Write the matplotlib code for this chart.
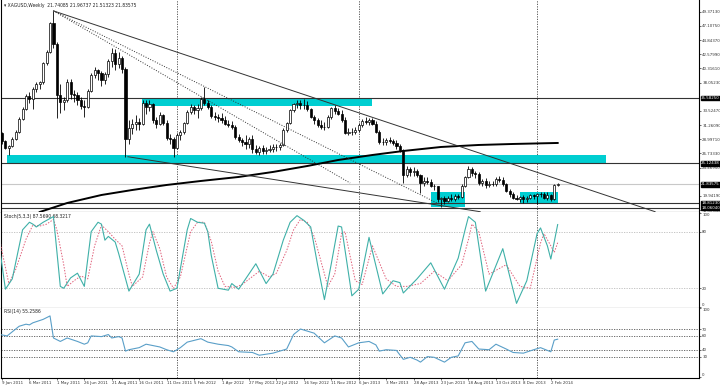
import matplotlib
matplotlib.use("Agg")
import matplotlib.pyplot as plt
import matplotlib.transforms as mtransforms
from matplotlib.patches import Rectangle

# weekly bars, week 0 = 9 Jan 2011
opens = [30.0, 28.7, 27.6, 27.9, 29.1, 30.2, 32.3, 33.9, 35.9, 35.5,
         37.0, 37.8, 38.1, 41.2, 43.0, 47.5, 44.2, 36.0, 35.0, 35.3,
         38.2, 36.3, 36.0, 35.2, 34.3, 34.2, 36.7, 39.2, 40.0, 39.5,
         38.5, 39.4, 41.5, 42.8, 41.0, 42.0, 40.2, 29.0, 30.8, 31.4,
         31.7, 31.4, 34.8, 34.2, 34.6, 32.1, 31.5, 32.8, 31.6, 29.2,
         29.0, 27.6, 29.6, 30.2, 31.6, 33.4, 34.2, 33.6, 34.0, 35.4,
         34.8, 34.2, 32.7, 32.5, 32.4, 32.0, 31.5, 31.3, 30.9, 29.4,
         28.9, 28.5, 28.3, 29.1, 27.4, 27.0, 27.6, 27.1, 27.3, 27.5,
         27.7, 27.8, 28.0, 30.5, 31.6, 33.6, 34.6, 34.8, 34.4, 34.5,
         33.8, 32.6, 32.0, 31.3, 31.0, 30.9, 32.6, 34.0, 33.5, 33.1,
         32.1, 30.0, 30.2, 30.1, 30.4, 31.3, 31.9, 31.8, 32.0, 31.5,
         30.2, 28.6, 28.5, 28.9, 28.7, 28.4, 27.9, 27.3, 23.3, 24.2,
         23.7, 24.0, 23.3, 22.0, 22.4, 22.2, 21.6, 21.5, 19.4, 19.6,
         19.1, 19.6, 19.4, 19.9, 19.8, 21.6, 23.0, 24.2, 23.6, 23.5,
         22.0, 22.3, 21.7, 21.9, 21.8, 22.7, 22.5, 21.9, 20.8, 20.2,
         19.6, 19.5, 19.7, 19.5, 19.6, 20.1, 19.9, 20.2, 20.3, 19.6,
         20.1, 19.4, 21.74085]
highs = [30.2, 28.9, 28.0, 29.3, 30.5, 32.5, 34.2, 36.2, 36.6, 37.3,
         38.2, 38.3, 41.4, 43.2, 47.8, 49.5, 44.6, 37.8, 35.8, 38.6,
         38.6, 36.8, 36.5, 35.8, 35.2, 37.0, 39.5, 40.6, 40.2, 39.9,
         39.8, 41.8, 43.6, 43.4, 42.9, 42.3, 40.5, 32.0, 32.2, 32.8,
         32.4, 35.2, 35.3, 35.2, 34.8, 32.6, 33.3, 33.0, 32.0, 29.8,
         29.3, 30.0, 30.5, 31.8, 33.7, 34.6, 34.5, 34.7, 35.8, 37.4,
         35.2, 34.5, 33.3, 33.0, 33.2, 32.7, 32.1, 31.9, 31.2, 29.9,
         29.2, 29.6, 29.4, 29.7, 28.0, 27.9, 28.1, 27.7, 28.0, 28.2,
         28.3, 28.4, 30.8, 31.8, 33.8, 34.8, 35.3, 35.2, 35.4, 35.1,
         34.0, 32.9, 32.4, 32.0, 31.7, 32.8, 34.2, 34.5, 34.0, 33.6,
         32.5, 30.8, 30.8, 31.0, 31.6, 32.3, 32.5, 32.4, 32.4, 31.9,
         30.4, 29.2, 29.2, 29.3, 29.0, 28.8, 28.3, 27.5, 24.8, 24.6,
         24.5, 24.3, 23.5, 22.9, 22.9, 22.6, 21.9, 21.6, 19.8, 19.9,
         19.9, 20.2, 20.2, 20.3, 21.8, 23.2, 24.8, 24.6, 24.0, 23.8,
         22.6, 22.8, 22.3, 22.4, 23.0, 23.1, 22.9, 22.0, 21.0, 20.5,
         20.1, 20.0, 20.1, 19.9, 20.3, 20.3, 20.4, 20.6, 20.5, 20.5,
         20.3, 21.8, 21.96737]
lows = [28.3, 27.4, 26.4, 27.7, 28.9, 30.0, 32.1, 33.6, 34.8, 33.9,
        36.5, 37.0, 37.8, 40.8, 42.8, 43.6, 32.4, 33.2, 33.6, 35.0,
        35.5, 35.0, 34.5, 33.8, 32.6, 34.0, 36.5, 38.8, 38.5, 37.5,
        37.8, 39.0, 40.6, 40.0, 40.4, 39.5, 26.2, 28.2, 29.9, 30.4,
        30.5, 31.2, 33.0, 33.5, 31.6, 30.8, 31.2, 31.2, 28.8, 28.3,
        26.1, 27.4, 28.8, 29.9, 31.4, 33.0, 33.0, 32.4, 33.6, 34.4,
        33.8, 32.4, 32.0, 31.8, 31.6, 31.2, 30.9, 30.6, 29.0, 28.6,
        27.9, 27.5, 27.6, 26.8, 26.6, 26.5, 26.7, 26.6, 26.9, 27.0,
        27.1, 27.3, 27.9, 30.2, 31.4, 33.3, 34.0, 33.8, 33.9, 33.5,
        32.4, 31.5, 30.9, 30.6, 30.4, 30.8, 32.3, 33.0, 32.8, 31.8,
        29.8, 29.7, 29.6, 29.8, 30.2, 31.0, 31.5, 31.3, 31.2, 30.0,
        28.3, 28.0, 28.1, 28.4, 28.0, 27.5, 27.0, 22.0, 23.0, 23.1,
        23.2, 23.0, 20.4, 21.6, 21.8, 21.3, 20.9, 19.0, 18.1, 18.7,
        18.9, 19.1, 19.2, 19.4, 19.6, 21.3, 22.8, 23.2, 22.8, 21.7,
        21.6, 21.2, 21.3, 21.5, 21.6, 22.1, 21.6, 20.6, 19.8, 19.4,
        19.3, 19.0, 18.8, 18.9, 19.4, 19.5, 18.6, 19.7, 19.4, 19.3,
        19.2, 19.3, 21.51323]
closes = [28.7, 27.6, 27.9, 29.1, 30.2, 32.3, 33.9, 35.9, 35.5, 37.0,
          37.8, 38.1, 41.2, 43.0, 47.5, 44.2, 36.0, 35.0, 35.3, 38.2,
          36.3, 36.0, 35.2, 34.3, 34.2, 36.7, 39.2, 40.0, 39.5, 38.5,
          39.4, 41.5, 42.8, 41.0, 42.0, 40.2, 29.0, 30.8, 31.4, 31.7,
          31.4, 34.8, 34.2, 34.6, 32.1, 31.5, 32.8, 31.6, 29.2, 29.0,
          27.6, 29.6, 30.2, 31.6, 33.4, 34.2, 33.6, 34.0, 35.4, 34.8,
          34.2, 32.7, 32.5, 32.4, 32.0, 31.5, 31.3, 30.9, 29.4, 28.9,
          28.5, 28.3, 29.1, 27.4, 27.0, 27.6, 27.1, 27.3, 27.5, 27.7,
          27.8, 28.0, 30.5, 31.6, 33.6, 34.6, 34.8, 34.4, 34.5, 33.8,
          32.6, 32.0, 31.3, 31.0, 30.9, 32.6, 34.0, 33.5, 33.1, 32.1,
          30.0, 30.2, 30.1, 30.4, 31.3, 31.9, 31.8, 32.0, 31.5, 30.2,
          28.6, 28.5, 28.9, 28.7, 28.4, 27.9, 27.3, 23.3, 24.2, 23.7,
          24.0, 23.3, 22.0, 22.4, 22.2, 21.6, 21.5, 19.4, 19.6, 19.1,
          19.6, 19.4, 19.9, 19.8, 21.6, 23.0, 24.2, 23.6, 23.5, 22.0,
          22.3, 21.7, 21.9, 21.8, 22.7, 22.5, 21.9, 20.8, 20.2, 19.6,
          19.5, 19.7, 19.5, 19.6, 20.1, 19.9, 20.2, 20.3, 19.6, 20.1,
          19.4, 21.74, 21.83575]

# long moving average
ma_weeks = [11, 19, 29, 38, 48, 58, 69, 79, 89, 98, 108, 117, 128, 139, 149, 162]
ma_vals = [17.37, 18.81, 20.09, 20.89, 21.69, 22.33, 22.97, 23.77, 24.72, 25.68,
           26.48, 27.12, 27.76, 28.08, 28.24, 28.40]

# stochastic %K / %D
k_weeks = [-0.6, 1, 3, 6, 8, 9, 10, 12, 14, 15, 17, 18, 20, 22, 24, 26, 28, 29, 30, 31,
           32, 33, 34, 37, 40, 42, 43, 45, 47, 49, 51, 54, 55, 57, 59, 60, 61, 63, 66, 67,
           69, 74, 77, 79, 82, 84, 86, 88, 90, 92, 94, 96, 98, 99, 102, 104, 107, 111, 114, 116,
           117, 121, 125, 129, 133, 135, 136, 138, 141, 146, 150, 153, 156, 157, 159, 160, 162]
k_vals = [60, 19, 30, 82, 90, 88, 85, 90, 94, 96, 22, 20, 31, 36, 22, 80, 90, 88, 71, 75,
          72, 69, 57, 17, 35, 82, 88, 60, 35, 17, 20, 82, 94, 90, 89, 80, 55, 20, 18, 25,
          19, 46, 25, 35, 71, 90, 97, 92, 85, 45, 8, 46, 86, 85, 12, 19, 74, 14, 28, 26,
          15, 30, 47, 19, 52, 82, 96, 90, 17, 62, 4, 28, 78, 84, 65, 51, 87.569]
d_weeks = [-0.6, 1, 2, 4, 7, 9, 11, 13, 15, 16, 18, 19, 21, 23, 25, 27, 29, 31, 33, 35,
           37, 38, 41, 43, 44, 46, 48, 50, 52, 55, 57, 59, 61, 63, 65, 68, 70, 75, 78, 80,
           83, 85, 87, 89, 91, 95, 97, 99, 100, 103, 105, 108, 112, 115, 118, 122, 126, 130, 134, 136,
           137, 139, 142, 147, 151, 154, 157, 158, 160, 161, 162]
d_vals = [70, 42, 25, 40, 72, 87, 86, 88, 93, 82, 45, 22, 28, 33, 30, 65, 87, 80, 72, 65,
          35, 22, 32, 68, 80, 62, 32, 20, 32, 80, 90, 90, 70, 38, 22, 21, 24, 38, 32, 36,
          60, 82, 93, 90, 75, 22, 35, 78, 80, 28, 24, 65, 30, 22, 22, 25, 38, 28, 45, 72,
          88, 80, 35, 45, 22, 20, 68, 78, 65, 58, 68.3217]

# RSI(14)
r_weeks = [-0.6, 1.5, 3, 5, 7, 8, 9, 12, 14, 15, 17, 19, 22, 24, 25, 26, 29, 31, 32, 34,
           35, 36, 37, 40, 42, 44, 46, 48, 50, 52, 54, 58, 60, 63, 66, 67, 69, 73, 75, 79,
           83, 85, 87, 91, 94, 97, 99, 101, 104, 107, 109, 110, 112, 115, 117, 119, 121, 122, 124, 126,
           129, 131, 133, 135, 137, 139, 142, 144, 147, 149, 152, 155, 157, 160, 161, 162]
r_vals = [62, 60, 66, 74, 77, 76, 79, 84, 89, 57, 52, 57, 52, 48, 50, 60, 59, 62, 57, 59,
          57, 38, 40, 43, 48, 46, 44, 40, 37, 43, 51, 56, 51, 48, 46, 44, 37, 36, 32, 35,
          41, 62, 70, 64, 50, 60, 57, 44, 50, 52, 47, 38, 40, 39, 26, 29, 25, 22, 30, 29,
          22, 29, 31, 50, 52, 41, 40, 48, 41, 36, 35, 40, 43, 37, 54, 55.2586]

# drawn objects: trend lines (week, price)
trend_weeks = [[15, 190.4], [15, 126.8], [15, 101.5], [36.7, 139.4]]
trend_prices = [[49.5, 17.42], [49.5, 18.81], [49.5, 22.0], [26.2, 17.42]]
trend_styles = ["-", ":", ":", "-"]

# zones (rectangles)
zone_start = [40.8, 1.5, 125.1, 151.0]
zone_end = [107.9, 176.1, 135.0, 162.1]
zone_low = [34.30, 25.12, 18.20, 18.86]
zone_high = [35.58, 26.48, 20.60, 20.62]

level_prices = [35.5825, 25.12438, 18.8123, 18.0604]
level_labels = ["35.58250", "25.12438", "18.81230", "18.06040"]
bid = 21.83575
separators = [51, 104, 156]

price_ticks = [49.3713, 47.1075, 44.8437, 42.5799, 40.3161, 38.0523, 33.5247,
               31.2609, 28.9971, 26.7333, 24.4695, 19.9419, 17.6781]
date_weeks = list(range(0, 161, 8))
date_labels = ["9 Jan 2011", "6 Mar 2011", "1 May 2011", "26 Jun 2011", "21 Aug 2011",
               "16 Oct 2011", "11 Dec 2011", "5 Feb 2012", "1 Apr 2012", "27 May 2012",
               "22 Jul 2012", "16 Sep 2012", "11 Nov 2012", "6 Jan 2013", "3 Mar 2013",
               "28 Apr 2013", "23 Jun 2013", "18 Aug 2013", "13 Oct 2013", "8 Dec 2013",
               "2 Feb 2014"]

fs = 3.6
fs_r = 3.2
plt.rcParams['font.family'] = ['Liberation Sans Narrow', 'DejaVu Sans']
plt.rcParams['font.stretch'] = 'condensed'

fig = plt.figure(figsize=(7.2, 3.86), dpi=100)
W, H = 720.0, 386.0
left, right = 1 / W, 699 / W
ax = fig.add_axes([left, (H - 211.7) / H, right - left, 211.7 / H])
ax2 = fig.add_axes([left, (H - 307.7) / H, right - left, 96 / H])
ax3 = fig.add_axes([left, (H - 378) / H, right - left, 70.3 / H])

xlim = (-0.29, 203.2)
for a in (ax, ax2, ax3):
    a.set_xlim(*xlim)
    a.set_facecolor("white")
    for s in a.spines.values():
        s.set_color("black")
        s.set_linewidth(0.8)
    a.spines["top"].set_visible(False)
    a.yaxis.tick_right()
    a.tick_params(axis="y", labelsize=fs_r, length=1.5, width=0.5, pad=0.8, colors="#333333")
    a.tick_params(axis="x", bottom=False, labelbottom=False)
    for w in separators:
        a.axvline(w, color="#444444", lw=0.6, ls=(0, (1.5, 1.5)), zorder=1)

# ---- price panel ----
ax.set_ylim(17.42, 51.24)
for x0, x1, lo, hi in zip(zone_start, zone_end, zone_low, zone_high):
    ax.add_patch(Rectangle((x0, lo), x1 - x0, hi - lo, facecolor="#00CED1",
                           edgecolor="none", zorder=1))
for p in level_prices:
    ax.axhline(p, color="#333333", lw=0.8, zorder=2)
ax.axhline(bid, color="#c8c8c8", lw=0.8, zorder=2)

weeks = list(range(len(closes)))
ax.vlines(weeks, lows, highs, color="black", lw=0.6, zorder=3)
bottoms = [min(o, c) for o, c in zip(opens, closes)]
heights = [max(abs(c - o), 0.02) for o, c in zip(opens, closes)]
colors = ["white" if c >= o else "black" for o, c in zip(opens, closes)]
ax.bar(weeks, heights, bottom=bottoms, width=0.62, color=colors,
       edgecolor="black", linewidth=0.5, zorder=4)

ax.plot(ma_weeks, ma_vals, color="black", lw=1.4, zorder=5)
for xs, ys, st in zip(trend_weeks, trend_prices, trend_styles):
    ax.plot(xs, ys, color="#333333", lw=0.7, ls=st, zorder=5)

ax.set_yticks(price_ticks)
ax.set_yticklabels(["%.5f" % v for v in price_ticks])
trans = mtransforms.blended_transform_factory(ax.transAxes, ax.transData)
for p, lab in zip(level_prices + [bid], level_labels + ["21.83575"]):
    ax.text(1.003, p, lab, transform=trans, fontsize=fs_r, color="white", va="center",
            ha="left", bbox=dict(boxstyle="square,pad=0.1", fc="black", ec="black"),
            zorder=10, clip_on=False)
ax.text(0.004, 0.985, "\u25be XAGUSD,Weekly  21.74085 21.96737 21.51323 21.83575",
        transform=ax.transAxes, fontsize=fs, va="top", ha="left", color="#222222")

# ---- stochastic ----
ax2.set_ylim(-0.6, 101.2)
for lv in (80, 20):
    ax2.axhline(lv, color="#bbbbbb", lw=0.6, ls=(0, (1.5, 1.5)))
ax2.plot(k_weeks, k_vals, color="#3fb0a8", lw=0.8, zorder=4)
ax2.plot(d_weeks, d_vals, color="#e0607a", lw=0.7, ls=(0, (1.5, 1.5)), zorder=3)
ax2.set_yticks([0, 20, 80, 100])
ax2.set_yticklabels(["0", "20", "80", "100"])
ax2.get_yticklabels()[0].set_va("bottom")
ax2.get_yticklabels()[-1].set_va("top")
ax2.text(0.004, 0.975, "Stoch(5,3,3) 87.5690 68.3217", transform=ax2.transAxes,
         fontsize=fs, va="top", ha="left", color="#222222")

# ---- RSI ----
ax3.set_ylim(-1.0, 100.9)
for lv in (70, 60, 40, 30):
    ax3.axhline(lv, color="#555555", lw=0.6, ls=(0, (1.5, 1.5)))
ax3.plot(r_weeks, r_vals, color="#5a9fc8", lw=0.8, zorder=4)
ax3.set_yticks([0, 30, 40, 60, 70, 100])
ax3.set_yticklabels(["0", "30", "40", "60", "70", "100"])
ax3.get_yticklabels()[-1].set_va("top")
ax3.get_yticklabels()[0].set_va("bottom")
ax3.text(0.004, 0.975, "RSI(14) 55.2586", transform=ax3.transAxes,
         fontsize=fs, va="top", ha="left", color="#222222")
ax3.set_xticks(date_weeks)
ax3.set_xticklabels(date_labels)
ax3.tick_params(axis="x", bottom=True, labelbottom=True, labelsize=fs_r, length=1.5,
                width=0.5, pad=0.5, colors="#333333")
for t in ax3.get_xticklabels():
    t.set_ha("left")

fig.savefig("out.png", dpi=100)
